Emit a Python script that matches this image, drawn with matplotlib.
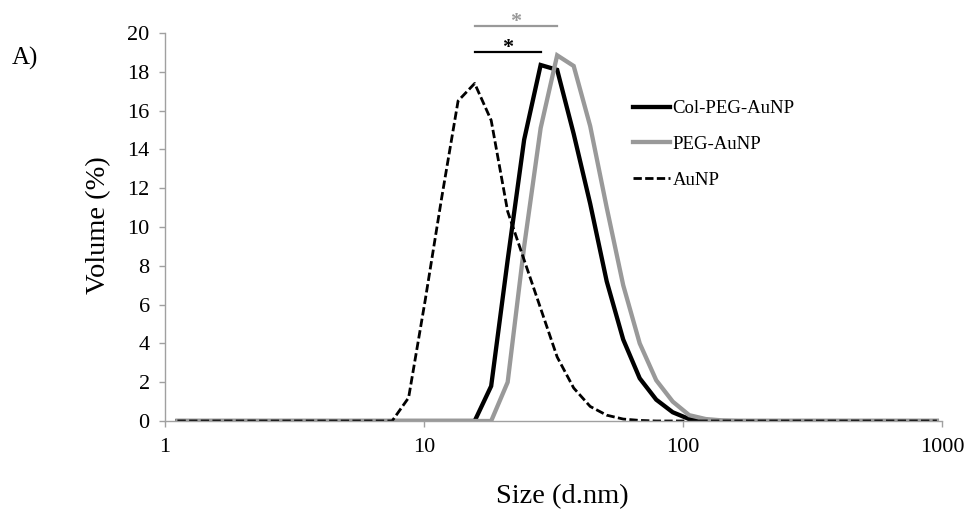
import matplotlib
matplotlib.use("Agg")
import matplotlib.pyplot as plt

plt.rcParams['font.family'] = ['Liberation Serif', 'DejaVu Serif']

# DLS size bins (d.nm)
sizes = [1.117, 1.294, 1.499, 1.736, 2.010, 2.328, 2.696, 3.122, 3.615, 4.187,
         4.849, 5.615, 6.503, 7.531, 8.721, 10.10, 11.70, 13.54, 15.69, 18.17,
         21.04, 24.36, 28.21, 32.67, 37.84, 43.82, 50.75, 58.77, 68.06, 78.82,
         91.28, 105.7, 122.4, 141.8, 164.2, 190.1, 220.2, 255.0, 295.3, 342.0,
         396.1, 458.7, 531.2, 615.1, 712.4, 825.0, 955.4]

col_peg_aunp = [0, 0, 0, 0, 0, 0, 0, 0, 0, 0,
                0, 0, 0, 0, 0, 0, 0, 0, 0, 1.8,
                8.3, 14.5, 18.35, 18.1, 14.8, 11.2, 7.2, 4.2, 2.2, 1.1,
                0.45, 0.1, 0, 0, 0, 0, 0, 0, 0, 0,
                0, 0, 0, 0, 0, 0, 0]

peg_aunp = [0, 0, 0, 0, 0, 0, 0, 0, 0, 0,
            0, 0, 0, 0, 0, 0, 0, 0, 0, 0,
            2.0, 9.0, 15.1, 18.85, 18.3, 15.2, 11.0, 7.0, 4.0, 2.1,
            1.0, 0.3, 0.1, 0.03, 0, 0, 0, 0, 0, 0,
            0, 0, 0, 0, 0, 0, 0]

aunp = [0, 0, 0, 0, 0, 0, 0, 0, 0, 0,
        0, 0, 0, 0, 1.2, 6.2, 11.5, 16.5, 17.4, 15.5,
        10.8, 8.3, 5.8, 3.3, 1.7, 0.75, 0.3, 0.1, 0.03, 0,
        0, 0, 0, 0, 0, 0, 0, 0, 0, 0,
        0, 0, 0, 0, 0, 0, 0]

series_labels = ['Col-PEG-AuNP', 'PEG-AuNP', 'AuNP']
x_ticks = [1, 10, 100, 1000]
x_tick_labels = ['1', '10', '100', '1000']
y_ticks = [0, 2, 4, 6, 8, 10, 12, 14, 16, 18, 20]

# significance bars: (start size, end size, height)
sig_gray = (15.69, 32.67, 20.35)
sig_black = (15.69, 28.21, 19.0)

W, H = 970, 513
fig = plt.figure(figsize=(W / 100, H / 100), dpi=100)
ax = fig.add_axes([165 / W, 1 - 421 / H, (942 - 165) / W, (421 - 33) / H])

gray = '#999999'
axis_gray = '#a0a0a0'

ax.plot(sizes, col_peg_aunp, color='black', lw=3.1, label=series_labels[0],
        solid_joinstyle='miter')
ax.plot(sizes, peg_aunp, color=gray, lw=3.1, label=series_labels[1],
        solid_joinstyle='miter')
ax.plot(sizes, aunp, color='black', lw=2.0, ls=(0, (3.0, 1.2)),
        label=series_labels[2])

ax.set_xscale('log')
ax.set_xlim(1, 1000)
ax.set_ylim(0, 20)
ax.set_xticks(x_ticks)
ax.set_xticklabels(x_tick_labels)
ax.xaxis.set_minor_locator(matplotlib.ticker.NullLocator())
ax.set_yticks(y_ticks)

for s in ['top', 'right']:
    ax.spines[s].set_visible(False)
for s in ['left', 'bottom']:
    ax.spines[s].set_color(axis_gray)
    ax.spines[s].set_linewidth(1.0)
ax.tick_params(axis='both', colors=axis_gray, labelcolor='black',
               labelsize=16, length=4, width=1.0, direction='out')
ax.tick_params(axis='x', pad=8)
ax.tick_params(axis='y', pad=7)

# significance markers
ax.plot([sig_gray[0], sig_gray[1]], [sig_gray[2], sig_gray[2]], color=gray,
        lw=1.6, clip_on=False)
ax.plot([sig_black[0], sig_black[1]], [sig_black[2], sig_black[2]], color='black',
        lw=1.6, clip_on=False)
ax.text((sig_gray[0] * sig_gray[1]) ** 0.5, sig_gray[2] - 0.28, '*', color=gray,
        fontsize=16, fontweight='bold', ha='center', va='bottom', clip_on=False)
ax.text((sig_black[0] * sig_black[1]) ** 0.5, sig_black[2] - 0.28, '*', color='black',
        fontsize=16, fontweight='bold', ha='center', va='bottom', clip_on=False)

leg = ax.legend(loc='upper left', bbox_to_anchor=(633 / W, 1 - 100 / H),
                bbox_transform=fig.transFigure, frameon=False, fontsize=13.5,
                handlelength=2.0, handletextpad=0.12, labelspacing=1.0,
                borderpad=0, borderaxespad=0)

fig.text(562 / W, 1 - 497 / H, 'Size (d.nm)', fontsize=20.5, ha='center', va='center')
fig.text(99 / W, 1 - 225 / H, 'Volume (%)', fontsize=20.5, ha='center', va='center',
         rotation=90)
fig.text(12 / W, 1 - 58 / H, 'A)', fontsize=18, ha='left', va='center')

fig.savefig('out.png', dpi=100)
